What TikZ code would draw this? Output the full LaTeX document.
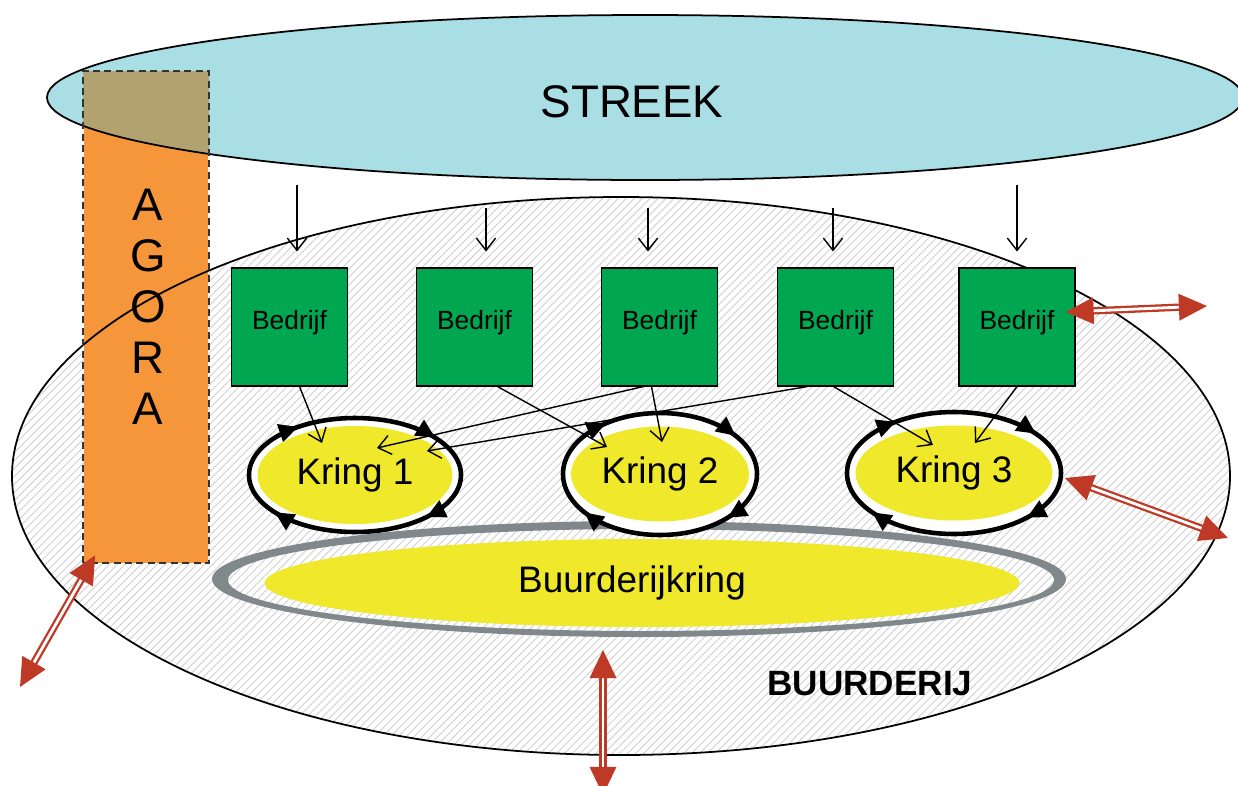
\documentclass[tikz,border=0pt]{standalone}
\usepackage{fontspec}
\setmainfont{Liberation Sans}
\usetikzlibrary{arrows.meta, shapes.geometric, patterns.meta, decorations.markings}

\definecolor{streekblauw}{RGB}{168,222,228}
\definecolor{agoraoranje}{RGB}{246,150,58}
\definecolor{agoraolijf}{RGB}{178,162,112}
\definecolor{bedrijfgroen}{RGB}{0,166,80}
\definecolor{kringgeel}{RGB}{240,232,42}
\definecolor{ringgrijs}{RGB}{128,136,140}
\definecolor{pijlrood}{RGB}{190,58,38}

\begin{document}
\begin{tikzpicture}[x=0.02cm, y=-0.02cm,
    bedrijf/.style={draw=black, line width=0.6pt, fill=bedrijfgroen, minimum width=2.32cm,
        minimum height=2.36cm, inner sep=0pt, text depth=8pt, font=\fontsize{15}{18}\selectfont},
    kring/.style={ellipse, fill=kringgeel, inner sep=0pt, font=\fontsize{21}{25}\selectfont},
    kringlijn/.style={line width=2.6pt, fill=white, postaction={decorate},
        decoration={markings,
            mark=at position 0.11 with {\arrow{Triangle[length=11pt,width=10pt]}},
            mark=at position 0.41 with {\arrow{Triangle[length=11pt,width=10pt]}},
            mark=at position 0.64 with {\arrow{Triangle[length=11pt,width=10pt]}},
            mark=at position 0.91 with {\arrow{Triangle[length=11pt,width=10pt]}}}},
    pijl/.style={-{Straight Barb[length=7pt,width=11pt]}, line width=0.8pt},
    rodepijl/.style={draw=pijlrood, line width=1.3pt, double=white, double distance=1.6pt,
        {Triangle[length=16pt,width=15pt,fill=pijlrood]}-{Triangle[length=16pt,width=15pt,fill=pijlrood]}}
]
\useasboundingbox (0,0) rectangle (1238,785);

% streek en buurderij
\fill[streekblauw] (645,97.5) ellipse [x radius=598, y radius=82.5];
\fill[white] (621,476) ellipse [x radius=609, y radius=279];
\fill[pattern={Lines[angle=45,distance=3.2pt,line width=0.5pt]}, pattern color=gray!38]
    (621,476) ellipse [x radius=609, y radius=279];

% agora
\node[fill=agoraoranje, minimum width=2.5cm, minimum height=9.84cm, inner sep=0pt] (agora) at (146,317) {};
\begin{scope}
    \clip (645,97.5) ellipse [x radius=598, y radius=82.5];
    \fill[agoraolijf] (agora.south west) rectangle (agora.north east);
\end{scope}
\draw[line width=1pt] (645,97.5) ellipse [x radius=598, y radius=82.5];
\draw[line width=1pt] (621,476) ellipse [x radius=609, y radius=279];
\draw[line width=1.1pt, black!80, dash pattern=on 4pt off 2.5pt] (agora.south west) rectangle (agora.north east);
\node[font=\fontsize{26}{29}\selectfont, align=center] (agoratekst) at (148,307) {A\\G\\O\\R\\A};

\node[font=\fontsize{26}{30}\selectfont] (streek) at (632,102) {STREEK};

% buurderijkring
\fill[ringgrijs, even odd rule] (639,579) ellipse [x radius=427, y radius=58]
    (641,580) ellipse [x radius=413, y radius=51];
\node[kring, minimum width=15.1cm, minimum height=1.76cm] (bk) at (642,583) {\hspace{-0.4cm}Buurderijkring};

% kringen
\foreach \n/\x/\y/\rx/\ry/\w/\h in {1/355/475/106/57/3.9/1.96, 2/660/474/97/61/3.56/1.9, 3/954/473/107/61/3.94/1.9} {
    \draw[kringlijn] (\x,\y) ellipse [x radius=\rx, y radius=\ry];
    \node[kring, minimum width=\w cm, minimum height=\h cm] (k\n) at (\x,\y) {Kring \n};
}

% bedrijven
\foreach \n/\x/\ax/\ay in {1/289.5/297/185, 2/474.5/486/208, 3/659.5/648/208, 4/835.5/833/208, 5/1017/1017/185} {
    \node[bedrijf] (b\n) at (\x,327) {Bedrijf};
    \coordinate (s\n) at (\ax,\ay);
    \draw[pijl, shorten >=0.32cm] (s\n) -- (s\n |- b\n.north);
}

\foreach \van/\dx/\naar/\tx/\ty in {b1/10/k1/-33/-32, b2/23/k2/-53/-27, b3/-16/k1/22/-27,
        b3/-8/k2/2/-32, b4/-28/k1/72/-24, b4/-2/k3/-21/-28, b5/0/k3/21/-30}
    \draw[pijl] ([xshift=\dx*0.02cm]\van.south) -- ([shift={(\tx,\ty)}]\naar.center);

% uitwisseling naar buiten
\coordinate (r1) at (1207,306);
\coordinate (r2) at (1228,538);
\coordinate (r3) at (20,687);
\coordinate (r4a) at (603,650);
\coordinate (r4b) at (603,795);
\draw[rodepijl] ([shift={(-10,-15)}]b5.east) -- (r1);
\draw[rodepijl] ([shift={(12,5)}]k3.east) -- (r2);
\draw[rodepijl] ([shift={(12,-8)}]agora.south west) -- (r3);
\draw[rodepijl] (r4a) -- (r4b);

\node[font=\bfseries\fontsize{20}{24}\selectfont] (buurderij) at (870,684) {BUURDERIJ};
\end{tikzpicture}
\end{document}
